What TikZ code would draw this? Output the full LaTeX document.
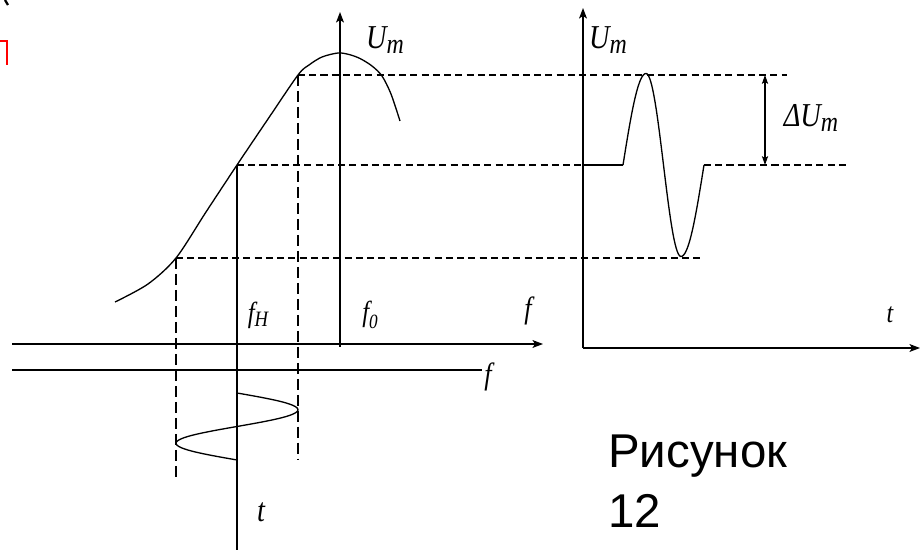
\documentclass[tikz,border=0pt]{standalone}
\usepackage{fontspec}
\setmainfont{Liberation Serif}
\newfontfamily\capfont{Liberation Sans}
\usetikzlibrary{arrows.meta}

\newcommand{\squeeze}[1]{\scalebox{0.85}[1]{#1}}
\newcommand{\lowsub}[3]{\raisebox{#1}{\fontsize{#2}{#2}\selectfont #3}}

\begin{document}
\begin{tikzpicture}[
  x=0.02cm, y=-0.02cm,
  axis/.style={line width=0.8pt, -{Stealth[length=6pt, width=4.5pt, inset=1.5pt]}},
  base/.style={line width=0.8pt},
  curve/.style={line width=0.75pt},
  guide/.style={line width=0.8pt, dash pattern=on 4pt off 2.4pt},
  drop/.style={line width=0.8pt, dash pattern=on 6.5pt off 2.6pt},
  span/.style={line width=0.7pt, {Stealth[length=5pt, width=3.5pt, inset=1pt]}-{Stealth[length=5pt, width=3.5pt, inset=1pt]}},
  lbl/.style={inner sep=0pt, font=\fontsize{16.5}{19}\selectfont\itshape},
  biglbl/.style={inner sep=0pt, font=\fontsize{19}{22}\selectfont\itshape}
]
  \useasboundingbox (0,0) rectangle (920,550);

  \coordinate (fL) at (12,344);
  \coordinate (fR) at (543,344);
  \coordinate (gL) at (12,370);
  \coordinate (gR) at (482,370);
  \coordinate (ax0) at (340,347);
  \coordinate (ax1) at (340,12);
  \coordinate (pLo) at (176,258);
  \coordinate (pMid) at (237,165);
  \coordinate (pHi) at (298,75);
  \coordinate (o) at (583,348);
  \coordinate (oTop) at (583,8);
  \coordinate (oRight) at (920,348);
  \coordinate (wA) at (583,165);
  \coordinate (wB) at (623,165);
  \coordinate (wE) at (704,165);

  \draw[axis] (fL) -- (fR);
  \draw[base, line width=1pt] (gL) -- (gR);
  \draw[axis] (ax0) -- (ax1);
  \draw[axis] (o) -- (oTop);
  \draw[axis] (o) -- (oRight);

  \draw[curve] plot[smooth] coordinates {(115,302) (148,284) (pLo) (206,212) (pMid) (268,119) (pHi) (309,65) (322,57) (338,53) (349,54.5) (360,58.5) (372,66) (382,76) (391,94) (400,121)};
  \draw[curve] plot[domain=0:360, samples=61, smooth] ({237+61*sin(\x)}, {393+0.1861*\x});
  \draw[curve] (wA) -- (wB);
  \draw[curve] plot[domain=0:360, samples=73, smooth]
    ({\x<=90 ? 623+23*\x/90 : (\x<=270 ? 646+35*(\x-90)/180 : 681+23*(\x-270)/90)}, {165-91.5*sin(\x)});

  \draw[guide] (pHi) -- (787,75);
  \draw[guide] (pMid) -- (wA);
  \draw[guide] (wE) -- (847,165);
  \draw[guide] (pLo) -- (703,258);
  \draw[drop] (pLo) -- (176,478);
  \draw[drop] (pHi) -- (298,460);
  \draw[base] (pMid) -- (237,550);
  \draw[span] (765,75) -- (765,165);

  \node[biglbl] (UmL) at (385,40) {\squeeze{U\lowsub{-0.16em}{16}{m}}};
  \node[biglbl] (UmR) at (608,40) {\squeeze{U\lowsub{-0.16em}{16}{m}}};
  \node[biglbl] (dUm) at (811,118) {\squeeze{ΔU\lowsub{-0.16em}{16}{m}}};
  \node[lbl] (fH) at (258,315) {\squeeze{f\lowsub{-0.15em}{12.5}{H}}};
  \node[lbl] (f0) at (370,315) {\squeeze{f\lowsub{-0.22em}{11.5}{0}}};
  \node[lbl, font=\fontsize{17.5}{20}\selectfont\itshape] (fUp) at (528,311) {\squeeze{f}};
  \node[lbl, font=\fontsize{17.5}{20}\selectfont\itshape] (fLow) at (488,377) {\squeeze{f}};
  \node[lbl, font=\fontsize{19}{22}\selectfont\itshape] (tL) at (261,512) {\squeeze{t}};
  \node[lbl, font=\fontsize{16}{18}\selectfont\itshape] (tR) at (890,315) {\squeeze{t}};
  \node[anchor=base west, inner sep=0pt, align=left, font=\capfont\fontsize{27}{33.6}\selectfont] (cap) at (608,527) {Рисунок\\12};

  \draw[red, line width=1.2pt] (0,41) -- (7,41) -- (7,65);
  \draw[line width=1.3pt] (5,0) -- (8,5);
\end{tikzpicture}
\end{document}
